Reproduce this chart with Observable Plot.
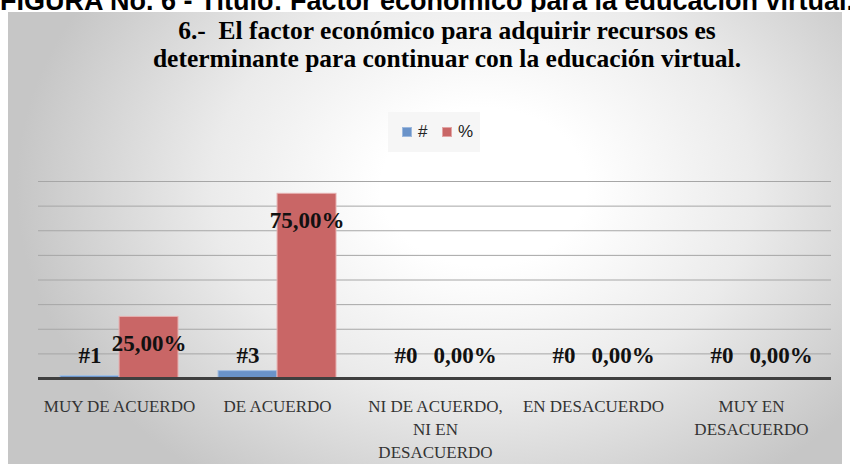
<!DOCTYPE html>
<html><head><meta charset="utf-8">
<script src="https://cdn.jsdelivr.net/npm/d3@7"></script>
<script src="https://cdn.jsdelivr.net/npm/@observablehq/plot@0.6"></script>
<style>
html,body{margin:0;padding:0;width:850px;height:464px;overflow:hidden;background:#fff;}
#heading{position:absolute;left:0;top:-10.3px;font:bold 27px "Liberation Sans",Arial,sans-serif;line-height:22px;white-space:nowrap;color:#000;}
#box{position:absolute;left:8px;top:12px;width:834px;height:460px;
  background:radial-gradient(ellipse 56% 78% at 57% 38%, #ffffff 22%, #ebebeb 58%, #c6c6c6 100%);}
.title{position:absolute;left:47px;width:800px;height:28px;text-align:center;font:bold 25.5px "Liberation Serif",serif;line-height:28px;color:#000;white-space:nowrap;}
#legend{position:absolute;left:388px;top:112px;width:92px;height:40px;background:#f6f6f6;}
.sw{position:absolute;top:15px;width:10px;height:10px;}
.lt{position:absolute;top:10px;font:17px "Liberation Sans",sans-serif;line-height:20px;color:#222;}
#chart{position:absolute;left:0;top:0;}
</style></head>
<body>
<div id="heading">FIGURA No. 6 - Título: Factor económico para la educación virtual.</div>
<div id="box"></div>
<div class="title" style="top:16.8px">6.-&nbsp; El factor económico para adquirir recursos es</div>
<div class="title" style="top:45.3px">determinante para continuar con la educación virtual.</div>
<div id="legend">
  <div class="sw" style="left:14px;background:#6a93c9;border:1px solid #9db9de;box-sizing:border-box"></div>
  <div class="lt" style="left:30px">#</div>
  <div class="sw" style="left:54px;background:#c96666;border:1px solid #e2a5a5;box-sizing:border-box"></div>
  <div class="lt" style="left:70px">%</div>
</div>
<div id="chart"></div>
<script>
const categories = ["MUY DE ACUERDO", "DE ACUERDO", "NI DE ACUERDO, NI EN DESACUERDO", "EN DESACUERDO", "MUY EN DESACUERDO"];
const categoryLabels = ["MUY DE ACUERDO", "DE ACUERDO", "NI DE ACUERDO,\nNI EN\nDESACUERDO", "EN DESACUERDO", "MUY EN\nDESACUERDO"];
const countValues = [1, 3, 0, 0, 0];
const percentValues = [25, 75, 0, 0, 0];
const yTicks = [0, 10, 20, 30, 40, 50, 60, 70, 80];

const blue = "#6a93c9", red = "#c96666";
const counts = categories.map((c, i) => ({cat: c, value: countValues[i]}));
const percents = categories.map((c, i) => ({cat: c, value: percentValues[i]}));
const labels = categories.map((c, i) => ({cat: c, label: categoryLabels[i]}));

const W = 850, H = 464, mL = 38, mR = 19, mT = 181, mB = 86;
const pad = 0.255;
const step = (W - mL - mR) / categories.length;
const half = step * (1 - pad) / 2;

const fmtPct = v => v.toFixed(2).replace(".", ",") + "%";
const serif = "Liberation Serif, serif";

const chart = Plot.plot({
  width: W, height: H,
  marginLeft: mL, marginRight: mR, marginTop: mT, marginBottom: mB,
  style: {background: "transparent", overflow: "visible"},
  x: {type: "band", domain: categories, paddingInner: pad, paddingOuter: pad / 2, axis: null},
  y: {domain: [0, 80], axis: null},
  marks: [
    Plot.gridY({ticks: yTicks.slice(1), stroke: "#a6a6a6", strokeOpacity: 1, strokeWidth: 1}),
    Plot.barY(counts, {x: "cat", y: "value", fill: blue, stroke: "#a3bfe2", strokeWidth: 1, insetRight: half}),
    Plot.barY(percents, {x: "cat", y: "value", fill: red, stroke: "#e6b0b0", strokeWidth: 1, insetLeft: half}),
    Plot.ruleY([0], {stroke: "#3f3f3f", strokeWidth: 3}),
    Plot.text(counts, {x: "cat", y: 0, text: d => "#" + d.value, dx: -half / 2, dy: -16, lineAnchor: "bottom",
      fontFamily: serif, fontWeight: "bold", fontSize: 23, fill: "#111"}),
    Plot.text(percents.filter(d => d.value === 0), {x: "cat", y: 0, text: d => fmtPct(d.value), dx: half / 2, dy: -16, lineAnchor: "bottom",
      fontFamily: serif, fontWeight: "bold", fontSize: 23, fill: "#111"}),
    Plot.text(percents.filter(d => d.value > 0), {x: "cat", y: "value", text: d => fmtPct(d.value), dx: half / 2, dy: 34, lineAnchor: "bottom",
      fontFamily: serif, fontWeight: "bold", fontSize: 23, fill: "#111"}),
    Plot.text(labels, {x: "cat", y: 0, text: "label", dy: 17, lineAnchor: "top", lineHeight: 1.36,
      fontFamily: serif, fontSize: 17, fill: "#333"})
  ]
});
document.getElementById("chart").appendChild(chart);
</script>
</body></html>
